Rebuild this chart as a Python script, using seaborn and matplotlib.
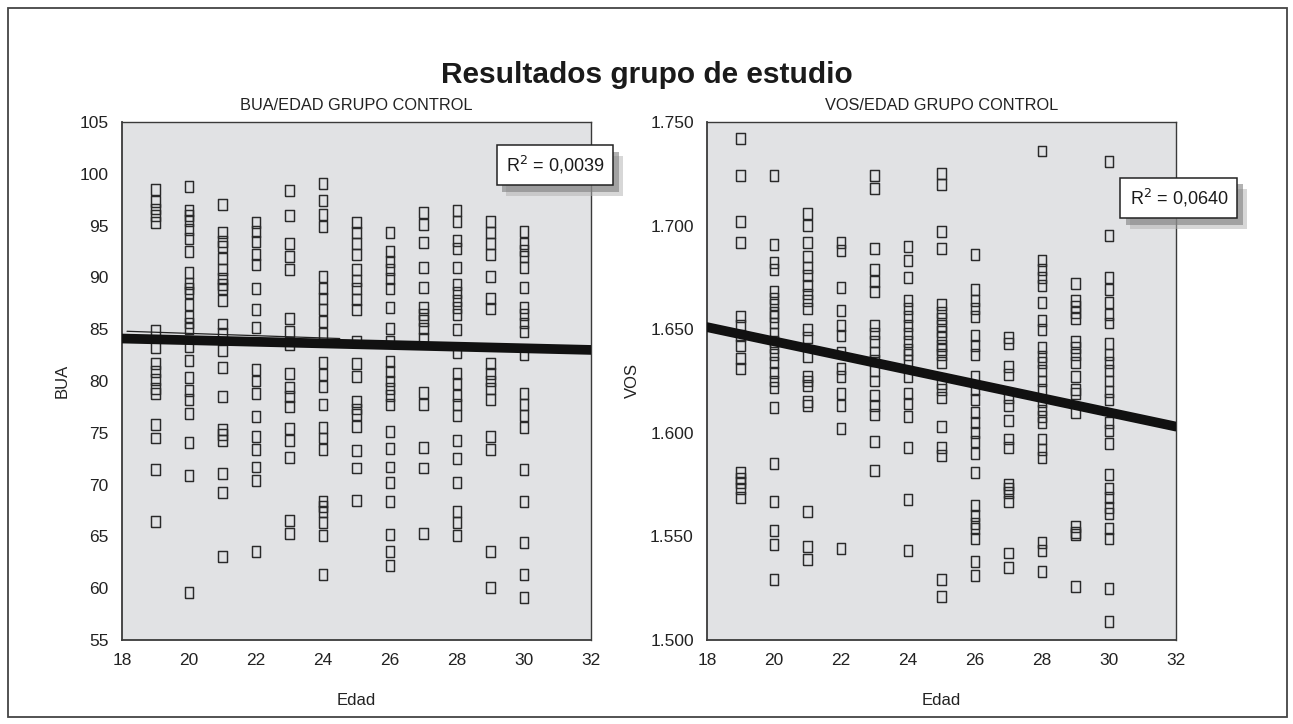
import matplotlib
matplotlib.use("Agg")
import matplotlib.pyplot as plt
import matplotlib.patheffects as pe
from matplotlib.patches import Rectangle
import pandas as pd
import seaborn as sns

# BUA values per age (control group)
bua_19 = [98.5, 97.3, 96.6, 96.0, 95.3, 84.9, 83.2, 81.7, 80.9, 80.1, 79.3, 78.8, 75.8, 74.5, 71.5, 66.4]
bua_20 = [98.8, 96.5, 96.0, 95.5, 94.6, 93.8, 92.5, 90.5, 89.4, 88.9, 88.5, 87.4, 86.2, 85.6, 85.1, 83.3,
          82.0, 80.3, 79.1, 78.2, 76.9, 74.1, 70.9, 59.6]
bua_21 = [97.0, 94.3, 93.5, 93.0, 91.8, 90.8, 89.9, 89.3, 88.9, 87.8, 85.5, 84.6, 82.9, 81.3, 78.5, 75.3,
          74.8, 74.3, 71.1, 69.2, 63.1]
bua_22 = [95.3, 94.4, 93.5, 92.2, 91.2, 88.9, 86.9, 85.2, 81.1, 80.0, 78.8, 76.6, 74.6, 73.4, 71.7, 70.4, 63.5]
bua_23 = [98.4, 96.0, 93.3, 92.0, 90.8, 86.0, 84.8, 83.5, 80.7, 79.4, 78.5, 77.5, 75.4, 74.3, 72.6, 66.5, 65.3]
bua_24 = [99.1, 97.4, 96.1, 94.9, 90.1, 88.9, 88.0, 86.9, 85.7, 84.6, 81.8, 80.6, 79.5, 77.7, 75.5, 74.5,
          73.4, 68.4, 67.9, 67.4, 66.3, 65.1, 61.3]
bua_25 = [95.3, 94.3, 93.3, 92.2, 90.8, 89.7, 88.9, 87.9, 86.9, 83.8, 81.7, 80.4, 78.0, 77.3, 76.8, 75.6,
          73.3, 71.6, 68.5]
bua_26 = [94.3, 92.5, 91.5, 90.8, 89.9, 88.9, 87.1, 85.1, 83.8, 81.9, 80.9, 80.0, 79.3, 78.6, 77.7, 75.1,
          73.5, 71.7, 70.2, 68.4, 65.2, 63.5, 62.2]
bua_27 = [96.3, 95.1, 93.4, 91.0, 89.0, 87.1, 86.4, 85.8, 85.1, 84.1, 78.9, 77.7, 73.6, 71.6, 65.3]
bua_28 = [96.5, 95.4, 93.6, 92.8, 91.0, 89.3, 88.5, 87.8, 87.1, 86.4, 85.0, 82.7, 80.7, 79.8, 78.6, 77.7,
          76.7, 74.3, 72.5, 70.2, 67.4, 66.3, 65.1]
bua_29 = [95.4, 94.3, 93.3, 92.2, 90.1, 88.0, 87.0, 81.7, 80.7, 80.0, 79.3, 78.2, 74.6, 73.4, 63.5, 60.1]
bua_30 = [94.4, 93.3, 92.6, 92.0, 91.0, 89.0, 87.1, 86.4, 85.6, 84.8, 82.6, 78.8, 77.7, 76.7, 75.5, 71.5,
          68.4, 64.4, 61.3, 59.1]

# VOS values per age (control group)
vos_19 = [1.742, 1.724, 1.702, 1.692, 1.656, 1.652, 1.647, 1.642, 1.636, 1.631, 1.581, 1.578, 1.576, 1.573, 1.569]
vos_20 = [1.724, 1.691, 1.682, 1.679, 1.668, 1.665, 1.662, 1.658, 1.656, 1.653, 1.648, 1.644, 1.641, 1.638,
          1.634, 1.629, 1.625, 1.622, 1.612, 1.585, 1.567, 1.553, 1.546, 1.529]
vos_21 = [1.706, 1.700, 1.692, 1.685, 1.680, 1.676, 1.671, 1.667, 1.664, 1.660, 1.650, 1.646, 1.637, 1.627,
          1.625, 1.623, 1.615, 1.613, 1.562, 1.545, 1.539]
vos_22 = [1.692, 1.688, 1.670, 1.659, 1.652, 1.647, 1.639, 1.631, 1.627, 1.619, 1.613, 1.602, 1.544]
vos_23 = [1.724, 1.718, 1.689, 1.679, 1.673, 1.668, 1.652, 1.648, 1.644, 1.639, 1.635, 1.630, 1.625, 1.618,
          1.613, 1.609, 1.596, 1.582]
vos_24 = [1.690, 1.683, 1.675, 1.664, 1.660, 1.656, 1.652, 1.648, 1.644, 1.640, 1.638, 1.635, 1.627, 1.619,
          1.614, 1.608, 1.593, 1.568, 1.543]
vos_25 = [1.725, 1.720, 1.697, 1.689, 1.662, 1.658, 1.655, 1.652, 1.649, 1.646, 1.642, 1.640, 1.638, 1.634,
          1.624, 1.621, 1.617, 1.603, 1.593, 1.589, 1.529, 1.521]
vos_26 = [1.686, 1.669, 1.664, 1.660, 1.656, 1.647, 1.642, 1.638, 1.627, 1.621, 1.616, 1.610, 1.605, 1.600,
          1.596, 1.590, 1.581, 1.565, 1.560, 1.556, 1.554, 1.549, 1.538, 1.531]
vos_27 = [1.646, 1.643, 1.632, 1.628, 1.617, 1.613, 1.606, 1.597, 1.593, 1.575, 1.573, 1.571, 1.567, 1.542, 1.535]
vos_28 = [1.736, 1.683, 1.679, 1.675, 1.671, 1.663, 1.654, 1.650, 1.641, 1.637, 1.634, 1.630, 1.625, 1.621,
          1.615, 1.611, 1.608, 1.605, 1.597, 1.592, 1.588, 1.547, 1.543, 1.533]
vos_29 = [1.672, 1.664, 1.661, 1.658, 1.655, 1.644, 1.641, 1.638, 1.634, 1.627, 1.621, 1.619, 1.610, 1.555,
          1.552, 1.551, 1.526]
vos_30 = [1.731, 1.695, 1.675, 1.669, 1.663, 1.657, 1.653, 1.643, 1.638, 1.634, 1.630, 1.625, 1.620, 1.616,
          1.605, 1.601, 1.595, 1.580, 1.573, 1.569, 1.564, 1.561, 1.554, 1.549, 1.525, 1.509]

ages = list(range(19, 31))
bua_cols = [bua_19, bua_20, bua_21, bua_22, bua_23, bua_24, bua_25, bua_26, bua_27, bua_28, bua_29, bua_30]
vos_cols = [vos_19, vos_20, vos_21, vos_22, vos_23, vos_24, vos_25, vos_26, vos_27, vos_28, vos_29, vos_30]

# fitted lines
fit_x = [18, 32]
fit_bua = [84.1, 83.0]
fit_vos = [1.651, 1.603]
thin_bua_x = [18.15, 24.5]
thin_bua_y = [84.8, 84.1]

r2_bua = "R$^2$ = 0,0039"
r2_vos = "R$^2$ = 0,0640"

x_ticks = [18, 20, 22, 24, 26, 28, 30, 32]
bua_ticks = [55, 60, 65, 70, 75, 80, 85, 90, 95, 100, 105]
vos_ticks = [1.500, 1.550, 1.600, 1.650, 1.700, 1.750]
vos_tick_labels = ["1.500", "1.550", "1.600", "1.650", "1.700", "1.750"]

df_bua = pd.DataFrame({"Edad": [a for a, c in zip(ages, bua_cols) for _ in c],
                       "BUA": [v for c in bua_cols for v in c]})
df_vos = pd.DataFrame({"Edad": [a for a, c in zip(ages, vos_cols) for _ in c],
                       "VOS": [v for c in vos_cols for v in c]})

sns.set_style("white")
plt.rcParams["font.family"] = ["Liberation Sans", "DejaVu Sans"]

fig = plt.figure(figsize=(12.93, 7.24), dpi=100)
ax1 = fig.add_axes([122 / 1293, 1 - 640 / 724, 469 / 1293, 518 / 724])
ax2 = fig.add_axes([707 / 1293, 1 - 640 / 724, 469 / 1293, 518 / 724])

# outer frame
fig.patches.append(Rectangle((8 / 1293, 7 / 724), 1279 / 1293, 709 / 724, transform=fig.transFigure,
                             fill=False, edgecolor="#444444", linewidth=1.3))
fig.text(0.5, 1 - 75 / 724, "Resultados grupo de estudio", ha="center", va="center",
         fontsize=21.5, fontweight="bold", color="#1a1a1a")

box_marker = [(-0.37, -0.5), (0.37, -0.5), (0.37, 0.5), (-0.37, 0.5), (-0.37, -0.5)]


def draw_panel(ax, df, y, fit_y, title, ticks, tick_labels, ylim, r2, r2_pos, tick_color):
    ax.set_facecolor("#e1e2e4")
    sns.scatterplot(data=df, x="Edad", y=y, ax=ax, marker=box_marker, s=62,
                    facecolor="none", edgecolor="#2a2a2a", linewidth=1.05, zorder=3)
    sns.lineplot(x=fit_x, y=fit_y, ax=ax, color="#111111", linewidth=7, zorder=4)
    ax.set_xlim(18, 32)
    ax.set_ylim(*ylim)
    ax.set_xticks(x_ticks)
    ax.set_yticks(ticks)
    ax.set_yticklabels(tick_labels)
    ax.tick_params(axis="both", labelsize=12.5, colors="#222222", length=6, width=1.1, direction="out")
    ax.tick_params(axis="x", colors=tick_color, labelcolor="#222222")
    for side, sp in ax.spines.items():
        sp.set_visible(True)
        sp.set_color("#3a3a3a")
        sp.set_linewidth(1.3 if side in ("left", "bottom") else 1.0)
    ax.set_title(title, fontsize=11.8, color="#222222", pad=9)
    ax.set_xlabel("Edad", fontsize=12, color="#222222", labelpad=18)
    ax.set_ylabel(y, fontsize=12, color="#222222", labelpad=7)

    t = ax.text(r2_pos[0], r2_pos[1], r2, transform=ax.transAxes, ha="center", va="center",
                fontsize=13, color="#1a1a1a", clip_on=False, zorder=6,
                bbox=dict(boxstyle="square,pad=0.5", fc="white", ec="#222222", lw=1.1))
    t.get_bbox_patch().set_path_effects([
        pe.SimplePatchShadow(offset=(7, -8), shadow_rgbFace="#b0b0b0", alpha=0.5),
        pe.SimplePatchShadow(offset=(4, -5), shadow_rgbFace="#808080", alpha=0.6),
        pe.Normal()])


draw_panel(ax1, df_bua, "BUA", fit_bua, "BUA/EDAD GRUPO CONTROL", bua_ticks,
           [str(t) for t in bua_ticks], (55, 105), r2_bua, (0.923, 0.917), "#4a9fd8")
sns.lineplot(x=thin_bua_x, y=thin_bua_y, ax=ax1, color="#222222", linewidth=0.9, zorder=4)
draw_panel(ax2, df_vos, "VOS", fit_vos, "VOS/EDAD GRUPO CONTROL", vos_ticks,
           vos_tick_labels, (1.500, 1.750), r2_vos, (1.006, 0.854), "#333333")

fig.savefig("out.png", dpi=100)
